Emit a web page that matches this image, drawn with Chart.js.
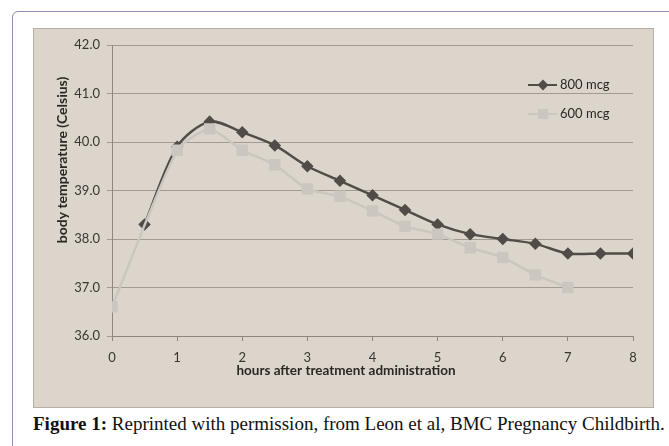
<!DOCTYPE html>
<html>
<head>
<meta charset="utf-8">
<script src="https://cdn.jsdelivr.net/npm/chart.js@4.4.1/dist/chart.umd.min.js"></script>
<style>
  html, body { margin: 0; padding: 0; background: #fff; width: 669px; height: 446px; overflow: hidden; }
  #frame { position: absolute; left: 12px; top: 11px; width: 700px; height: 500px; border: 1.5px solid #8f8fb6; border-radius: 6px; box-sizing: border-box; }
  #chartBox { position: absolute; left: 33px; top: 28px; width: 621px; height: 380px; background: #dcd5cc; border: 1px solid #b7afa6; box-sizing: border-box; }
  #caption { position: absolute; left: 33px; top: 413px; font-family: "Liberation Serif", "Times New Roman", serif; font-size: 19px; color: #111; white-space: nowrap; }
</style>
</head>
<body>
<div id="frame"></div>
<div id="chartBox"><canvas id="tempChart"></canvas></div>
<div id="caption"><b>Figure 1:</b> Reprinted with permission, from Leon et al, BMC Pregnancy Childbirth.</div>
<script>
document.addEventListener('DOMContentLoaded', function () {
  // datos
  const horas = [0, 0.5, 1, 1.5, 2, 2.5, 3, 3.5, 4, 4.5, 5, 5.5, 6, 6.5, 7, 7.5, 8];
  const temp800 = [null, 38.3, 39.9, 40.42, 40.2, 39.93, 39.5, 39.2, 38.9, 38.6, 38.3, 38.1, 38.0, 37.9, 37.7, 37.7, 37.7];
  const temp600 = [36.6, null, 39.83, 40.27, 39.83, 39.53, 39.03, 38.88, 38.58, 38.26, 38.1, 37.82, 37.62, 37.26, 37.0, null, null];
  const seriesLabels = ['800 mcg', '600 mcg'];
  const yTicks = [36, 37, 38, 39, 40, 41, 42];
  const xTicks = [0, 1, 2, 3, 4, 5, 6, 7, 8];

  const colors = { dark: '#524c48', light: '#cbc6c0' };
  const tickFont = { family: 'Lato, "Open Sans", sans-serif', size: 13 };

  const toPoints = (vals) => horas.map((h, i) => ({ x: h, y: vals[i] }));

  // titulos de ejes y leyenda dibujados a mano (posicion como en Excel)
  const extras = {
    id: 'extras',
    afterDraw(chart) {
      const ctx = chart.ctx;
      ctx.save();
      ctx.fillStyle = '#2b2724';
      ctx.textAlign = 'center';
      ctx.textBaseline = 'middle';
      ctx.font = 'bold 13.5px Lato, "Open Sans", sans-serif';
      ctx.fillText('hours after treatment administration', 312, 342);
      ctx.font = 'bold 14px Lato, "Open Sans", sans-serif';
      ctx.translate(28, 131);
      ctx.rotate(-Math.PI / 2);
      ctx.fillText('body temperature (Celsius)', 0, 0);
      ctx.restore();

      // leyenda
      const items = [
        { ds: chart.data.datasets[0], y: 56 },
        { ds: chart.data.datasets[1], y: 85 }
      ];
      items.forEach(it => {
        ctx.save();
        ctx.strokeStyle = it.ds.borderColor;
        ctx.lineWidth = 2;
        ctx.beginPath(); ctx.moveTo(494, it.y); ctx.lineTo(523, it.y); ctx.stroke();
        ctx.fillStyle = it.ds.pointBackgroundColor;
        ctx.strokeStyle = it.ds.pointBorderColor;
        Chart.helpers.drawPoint(ctx, { pointStyle: it.ds.pointStyle, radius: it.ds.pointRadius - 0.5, borderWidth: 1 }, 509, it.y);
        ctx.fillStyle = '#2b2724';
        ctx.font = '13px Lato, "Open Sans", sans-serif';
        ctx.textBaseline = 'middle';
        ctx.fillText(it.ds.label, 526, it.y);
        ctx.restore();
      });
    }
  };

  new Chart(document.getElementById('tempChart').getContext('2d'), {
    type: 'line',
    data: {
      datasets: [
        { label: seriesLabels[0], data: toPoints(temp800), borderColor: colors.dark, backgroundColor: colors.dark,
          pointBackgroundColor: colors.dark, pointBorderColor: colors.dark, borderWidth: 2.5, pointStyle: 'rectRot',
          pointRadius: 4.5, tension: 0.3, spanGaps: true, order: 1 },
        { label: seriesLabels[1], data: toPoints(temp600), borderColor: colors.light, backgroundColor: colors.light,
          pointBackgroundColor: colors.light, pointBorderColor: colors.light, borderWidth: 2.5, pointStyle: 'rect',
          pointRadius: 6.3, tension: 0.2, spanGaps: true, order: 0 }
      ]
    },
    options: {
      responsive: true, maintainAspectRatio: false, animation: false,
      layout: { padding: { left: 0, right: 20, top: 16, bottom: 0 } },
      plugins: { legend: { display: false }, tooltip: { enabled: false } },
      scales: {
        x: {
          type: 'linear', min: 0, max: 8,
          afterBuildTicks: (s) => { s.ticks = xTicks.map(v => ({ value: v })); },
          afterFit: (s) => { s.height = 71; },
          ticks: { color: '#3a3531', font: tickFont, padding: 9 },
          grid: { drawOnChartArea: false, drawTicks: true, tickLength: 5, color: '#8e8780' },
          border: { color: '#8e8780', width: 1 }
        },
        y: {
          min: 36, max: 42,
          afterBuildTicks: (s) => { s.ticks = yTicks.map(v => ({ value: v })); },
          afterFit: (s) => { s.width = 78; },
          ticks: { color: '#3a3531', font: tickFont, padding: 7, callback: (v) => Number(v).toFixed(1) },
          grid: { color: '#a39b93', lineWidth: 1, tickLength: 5 },
          border: { color: '#8e8780', width: 1 }
        }
      }
    },
    plugins: [extras]
  });
});
</script>
</body>
</html>
